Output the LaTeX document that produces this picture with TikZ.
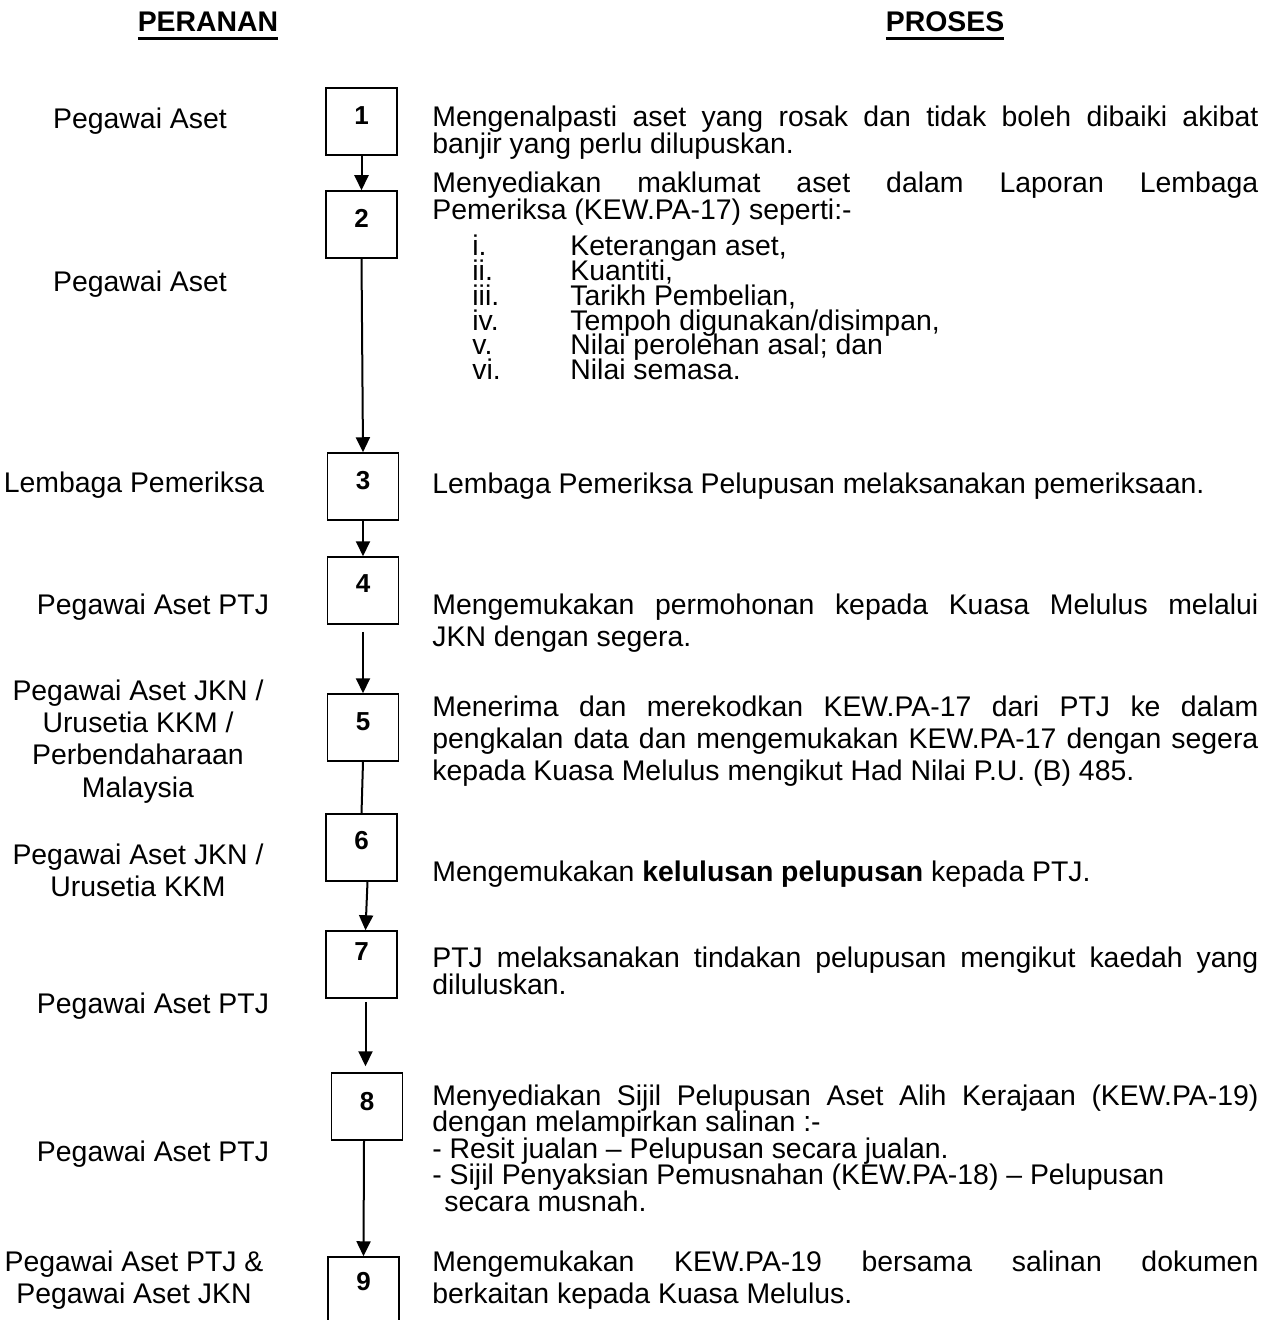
\documentclass[tikz,border=0pt]{standalone}
\usepackage{fontspec}
\setmainfont{Liberation Sans}
\usetikzlibrary{arrows.meta}
\hyphenpenalty=10000
\exhyphenpenalty=10000
\newcommand{\uln}[1]{\setbox0\hbox{#1}\rlap{\rule[-4pt]{\wd0}{1.3pt}}\box0}
\newcommand{\ptxt}[2]{\parbox[t]{413pt}{\fontsize{14.2pt}{#1}\selectfont\lineskiplimit=-100pt\tolerance=10000\relax #2}}
\newcommand{\rtxt}[2]{\parbox[t]{150pt}{\centering\fontsize{14.2pt}{#1}\selectfont\lineskiplimit=-100pt\relax #2}}
\newcommand{\itm}[2]{\hspace*{20pt}\makebox[49pt][l]{#1}#2}
\begin{document}
\begin{tikzpicture}[x=0.5pt,y=-0.5pt,
  stepbox/.style={draw, line width=0.75pt, inner sep=0pt, minimum width=35.5pt, minimum height=33.5pt},
  num/.style={font=\fontsize{13pt}{15pt}\selectfont\bfseries, inner sep=0pt},
  arr/.style={line width=1pt, -{Triangle[length=7.5pt,width=7pt]}},
  lnk/.style={line width=1pt},
  proc/.style={anchor=base west, inner sep=0pt},
  role/.style={anchor=base, inner sep=0pt},
  head/.style={anchor=base, inner sep=0pt, font=\fontsize{14.2pt}{16pt}\selectfont\bfseries}]
\useasboundingbox[fill=white] (0,0) rectangle (1266,1320);

% headers
\node[head] (hp) at (208,32) {\uln{PERANAN}};
\node[head] (hs) at (945,32) {\uln{PROSES}};

% boxes
\node[stepbox] (b1) at (361.5,121.5) {};
\node[stepbox] (b2) at (361.5,224.5) {};
\node[stepbox] (b3) at (363,486.5) {};
\node[stepbox] (b4) at (363,590.5) {};
\node[stepbox] (b5) at (363,727.5) {};
\node[stepbox] (b6) at (361.5,847.5) {};
\node[stepbox] (b7) at (361.5,964.5) {};
\node[stepbox] (b8) at (367,1106.5) {};
\node[stepbox] (b9) at (363.5,1290.5) {};

\node[num] (n1) at (361.5,116) {1};
\node[num] (n2) at (361.5,218) {2};
\node[num] (n3) at (363,481) {3};
\node[num] (n4) at (363,584) {4};
\node[num] (n5) at (363,722) {5};
\node[num] (n6) at (361.5,841) {6};
\node[num] (n7) at (361.5,952) {7};
\node[num] (n8) at (367,1102) {8};
\node[num] (n9) at (363.5,1282) {9};

% connectors
\draw[arr] (b1.south) -- (b2.north);
\draw[arr] (b2.south) -- (b3.north);
\draw[arr] (b3.south) -- (b4.north);
\draw[arr, shorten <=3.5pt] (b4.south) -- (b5.north);
\draw[lnk] (b5.south) -- (b6.north);
\draw[arr] ([xshift=3pt]b6.south) -- ([xshift=2pt]b7.north);
\draw[arr, shorten <=1.5pt, shorten >=3pt] ([xshift=2pt]b7.south) -- ([xshift=-0.75pt]b8.north);
\draw[arr] ([xshift=-1.5pt]b8.south) -- (b9.north);

% roles
\node[role] (r1) at (140,129) {\rtxt{16pt}{Pegawai Aset}};
\node[role] (r2) at (140,292) {\rtxt{16pt}{Pegawai Aset}};
\node[role] (r3) at (134,492) {\rtxt{16pt}{Lembaga Pemeriksa}};
\node[role] (r4) at (153,614) {\rtxt{16pt}{Pegawai Aset PTJ}};
\node[role] (r5) at (138,700) {\rtxt{16.2pt}{Pegawai Aset JKN /\\ Urusetia KKM /\\ Perbendaharaan\\ Malaysia}};
\node[role] (r6) at (138,864) {\rtxt{16pt}{Pegawai Aset JKN /\\ Urusetia KKM}};
\node[role] (r7) at (153,1013) {\rtxt{16pt}{Pegawai Aset PTJ}};
\node[role] (r8) at (153,1161) {\rtxt{16pt}{Pegawai Aset PTJ}};
\node[role] (r9) at (134,1271) {\rtxt{16pt}{Pegawai Aset PTJ \&\\ Pegawai Aset JKN}};

% process texts
\node[proc] (t1) at (432,127) {\ptxt{13.5pt}{Mengenalpasti aset yang rosak dan tidak boleh dibaiki akibat\linebreak banjir yang perlu dilupuskan.}};
\node[proc] (t2) at (432,193) {\ptxt{13.5pt}{Menyediakan maklumat aset dalam Laporan Lembaga\linebreak Pemeriksa (KEW.PA-17) seperti:-\par
\baselineskip=12.35pt\vspace*{5.65pt}%
\itm{i.}{Keterangan aset,}\\
\itm{ii.}{Kuantiti,}\\
\itm{iii.}{Tarikh Pembelian,}\\
\itm{iv.}{Tempoh digunakan/disimpan,}\\
\itm{v.}{Nilai perolehan asal; dan}\\
\itm{vi.}{Nilai semasa.}}};
\node[proc] (t3) at (432,493) {\ptxt{16pt}{Lembaga Pemeriksa Pelupusan melaksanakan pemeriksaan.}};
\node[proc] (t4) at (432,614) {\ptxt{16pt}{Mengemukakan permohonan kepada Kuasa Melulus melalui\linebreak JKN dengan segera.}};
\node[proc] (t5) at (432,716) {\ptxt{16.2pt}{Menerima dan merekodkan KEW.PA-17 dari PTJ ke dalam\linebreak pengkalan data dan mengemukakan KEW.PA-17 dengan segera\linebreak kepada Kuasa Melulus mengikut Had Nilai P.U. (B) 485.}};
\node[proc] (t6) at (432,881) {\ptxt{16pt}{Mengemukakan \textbf{kelulusan pelupusan} kepada PTJ.}};
\node[proc] (t7) at (432,967) {\ptxt{13.5pt}{PTJ melaksanakan tindakan pelupusan mengikut kaedah yang\linebreak diluluskan.}};
\node[proc] (t8) at (432,1105) {\ptxt{13.3pt}{Menyediakan Sijil Pelupusan Aset Alih Kerajaan (KEW.PA-19)\linebreak dengan melampirkan salinan :-\\
- Resit jualan – Pelupusan secara jualan.\\
- Sijil Penyaksian Pemusnahan (KEW.PA-18) – Pelupusan\\
\hspace*{6pt}secara musnah.}};
\node[proc] (t9) at (432,1271) {\ptxt{16pt}{Mengemukakan KEW.PA-19 bersama salinan dokumen\linebreak berkaitan kepada Kuasa Melulus.}};
\end{tikzpicture}
\end{document}
